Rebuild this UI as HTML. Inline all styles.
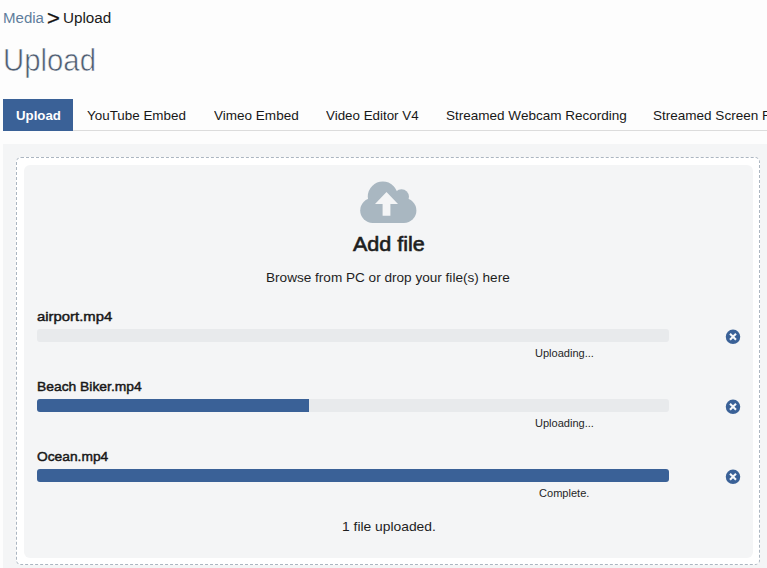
<!DOCTYPE html>
<html>
<head>
<meta charset="utf-8">
<title>Upload</title>
<style>
html,body{margin:0;padding:0;}
body{width:767px;height:568px;overflow:hidden;background:#fdfdfd;font-family:"Liberation Sans",sans-serif;color:#222;position:relative;}
.t{position:absolute;white-space:nowrap;line-height:1;transform-origin:0 0;display:block;}
.tabline{position:absolute;left:3px;top:130px;width:764px;height:1px;background:#dcdcdc;}
.tabact{position:absolute;left:3px;top:99px;width:70px;height:32px;background:#3a6197;}
.panel{position:absolute;left:3px;top:144px;width:764px;height:424px;background:#f4f5f6;}
.dash{position:absolute;left:16px;top:157px;width:742px;height:406px;border:1px dashed #acb6c1;border-radius:5px;background:#fff;}
.inner{position:absolute;left:24px;top:165px;width:729px;height:393px;border-radius:6px;background:#f4f5f6;}
.bar{position:absolute;left:37px;width:632px;height:13px;border-radius:3px;background:#e8eaec;overflow:hidden;}
.bar i{display:block;height:13px;background:#3a6197;}
.x{position:absolute;left:725px;width:17px;height:17px;}
</style>
</head>
<body>

<div class="tabline"></div>
<div class="tabact"></div>

<div class="panel"></div>
<div class="dash"></div>
<div class="inner"></div>

<svg style="position:absolute;left:360px;top:181px;" width="57" height="42" viewBox="0 0 57 42">
  <g fill="#a9b7c1">
    <circle cx="22.800" cy="15.600" r="15"/>
    <circle cx="41.500" cy="15.800" r="7.500"/>
    <rect x="0.200" y="17" width="56.200" height="24.900" rx="12.450"/>
  </g>
  <path d="M26.500 11 L38 23 L30.400 23 L30.400 34.700 L22.600 34.700 L22.600 23 L15 23 Z" fill="#f4f5f6"/>
</svg>

<div class="bar" style="top:329px;"><i style="width:0"></i></div>

<div class="bar" style="top:399px;"><i style="width:272px"></i></div>

<div class="bar" style="top:469px;"><i style="width:632px"></i></div>

<svg class="x" style="top:328px;" viewBox="0 0 17 17"><circle cx="8" cy="8.800" r="7.250" fill="#3a6197"/><path d="M5 5.800L11 11.800M11 5.800L5 11.800" stroke="#f6f7f9" stroke-width="2.100" stroke-linecap="butt"/></svg>
<svg class="x" style="top:398px;" viewBox="0 0 17 17"><circle cx="8" cy="8.800" r="7.250" fill="#3a6197"/><path d="M5 5.800L11 11.800M11 5.800L5 11.800" stroke="#f6f7f9" stroke-width="2.100" stroke-linecap="butt"/></svg>
<svg class="x" style="top:468px;" viewBox="0 0 17 17"><circle cx="8" cy="8.800" r="7.250" fill="#3a6197"/><path d="M5 5.800L11 11.800M11 5.800L5 11.800" stroke="#f6f7f9" stroke-width="2.100" stroke-linecap="butt"/></svg>
<span class="t" style="left:3.23px;top:11.00px;font-size:14px;color:#5f7d9c;transform:scaleX(1.0750);">Media</span>
<span class="t" style="left:47.20px;top:7.00px;font-size:21px;color:#111;transform:scaleX(1.0493);-webkit-text-stroke:0.3px #111;">&gt;</span>
<span class="t" style="left:62.76px;top:11.00px;font-size:14px;color:#1a1a1a;transform:scaleX(1.0881);">Upload</span>
<span class="t" style="left:3.35px;top:45.00px;font-size:31px;color:#4f5e72;transform:scaleX(0.9462);-webkit-text-stroke:0.6px #fdfdfd;">Upload</span>
<span class="t" style="left:15.77px;top:109.00px;font-size:13px;color:#fff;font-weight:bold;transform:scaleX(1.0199);">Upload</span>
<span class="t" style="left:87.36px;top:109.00px;font-size:13px;color:#181818;transform:scaleX(1.0315);">YouTube Embed</span>
<span class="t" style="left:214.25px;top:109.00px;font-size:13px;color:#181818;transform:scaleX(1.0402);">Vimeo Embed</span>
<span class="t" style="left:325.99px;top:109.00px;font-size:13px;color:#181818;transform:scaleX(1.0275);">Video Editor V4</span>
<span class="t" style="left:445.80px;top:109.00px;font-size:13px;color:#181818;transform:scaleX(1.0399);">Streamed Webcam Recording</span>
<span class="t" style="left:653.00px;top:109.00px;font-size:13px;color:#181818;transform:scaleX(1.0400);">Streamed Screen Recording</span>
<span class="t" style="left:352.55px;top:234.00px;font-size:20px;color:#1d1d1d;transform:scaleX(1.0768);-webkit-text-stroke:0.6px #1d1d1d;">Add file</span>
<span class="t" style="left:266.38px;top:271.00px;font-size:13px;color:#1e1e1e;transform:scaleX(1.0445);">Browse from PC or drop your file(s) here</span>
<span class="t" style="left:36.84px;top:310.00px;font-size:13px;color:#181818;transform:scaleX(1.1438);-webkit-text-stroke:0.45px #181818;">airport.mp4</span>
<span class="t" style="left:534.87px;top:348.00px;font-size:11px;color:#262626;transform:scaleX(1.0038);">Uploading...</span>
<span class="t" style="left:36.61px;top:380.00px;font-size:13px;color:#181818;transform:scaleX(1.0651);-webkit-text-stroke:0.45px #181818;">Beach Biker.mp4</span>
<span class="t" style="left:534.87px;top:418.00px;font-size:11px;color:#262626;transform:scaleX(1.0038);">Uploading...</span>
<span class="t" style="left:36.67px;top:450.00px;font-size:13px;color:#181818;transform:scaleX(1.0597);-webkit-text-stroke:0.45px #181818;">Ocean.mp4</span>
<span class="t" style="left:538.80px;top:488.00px;font-size:11px;color:#262626;transform:scaleX(1.0051);">Complete.</span>
<span class="t" style="left:341.91px;top:520.00px;font-size:13px;color:#1e1e1e;transform:scaleX(1.0642);">1 file uploaded.</span>
</body>
</html>
